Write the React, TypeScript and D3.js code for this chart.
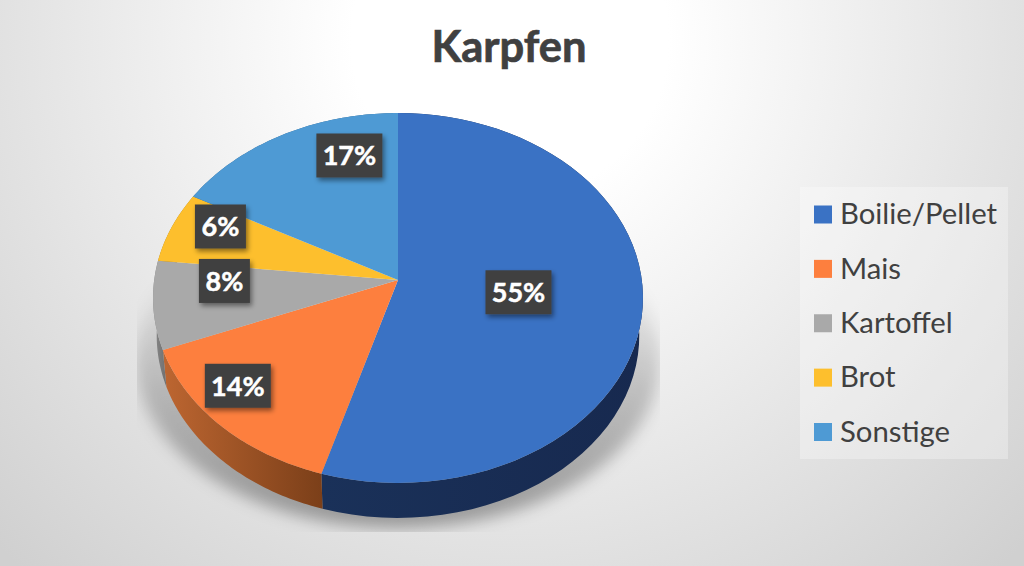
import * as d3 from "d3";
import React, { useEffect, useRef } from "react";

const categories = ["Boilie/Pellet", "Mais", "Kartoffel", "Brot", "Sonstige"];
const shares = [54.6, 14.4, 7.7, 6.2, 17.1];
const topColors = ["#3a72c4", "#fd7f3e", "#a9a9a9", "#fdbf2d", "#4e9ad4"];
const wallColors = [
  ["#1a3159", "#17294f"],
  ["#bd6631", "#7b3f19"],
  ["#8a8a8a", "#6f6f6f"],
  ["#a87f1e", "#a87f1e"],
  ["#33658c", "#33658c"],
];
// how far out from the apex each data label sits, then a small shift (Excel "best fit")
const labelRadius = [0.5, 0.84, 0.72, 0.78, 0.71];
const labelShiftX = [-1, -13, 2, 0, 35];
const labelShiftY = [-1, -15, -17, -12, -19];

const WIDTH = 1024;
const HEIGHT = 566;
const FONT = "Lato, 'Open Sans', sans-serif";

// tilted disc: perspective projection of the unit circle
const apex = { x: 398, y: 280 };
const spreadX = 243.8;
const spreadY = 183.2;
const tilt = 0.0973;
const depth = 38;

const project = (angle: number, r = 1, scale = 1, drop = 0): [number, number] => {
  const x = Math.sin(angle) * r;
  const y = -Math.cos(angle) * r;
  const w = 1 - tilt * y;
  return [
    apex.x + (spreadX * scale * x) / w,
    apex.y + drop + (spreadY * scale * y) / w,
  ];
};

const App: React.FC = () => {
  const ref = useRef<SVGSVGElement>(null);

  useEffect(() => {
    if (!ref.current) return;
    const svg = d3.select(ref.current);
    svg.selectAll("*").remove();

    const defs = svg.append("defs");

    const bg = defs
      .append("radialGradient")
      .attr("id", "bg")
      .attr("gradientUnits", "userSpaceOnUse")
      .attr("cx", 510)
      .attr("cy", 40)
      .attr("r", 720);
    bg.append("stop").attr("offset", "0%").attr("stop-color", "#ffffff");
    bg.append("stop").attr("offset", "22%").attr("stop-color", "#ffffff");
    bg.append("stop").attr("offset", "70%").attr("stop-color", "#e2e2e2");
    bg.append("stop").attr("offset", "100%").attr("stop-color", "#d0d0d0");

    const shadowFade = defs
      .append("linearGradient")
      .attr("id", "shadowFade")
      .attr("x1", 0)
      .attr("x2", 0)
      .attr("y1", 0)
      .attr("y2", 1);
    shadowFade.append("stop").attr("offset", "22%").attr("stop-color", "#000").attr("stop-opacity", 0);
    shadowFade.append("stop").attr("offset", "60%").attr("stop-color", "#000").attr("stop-opacity", 0.2);
    shadowFade.append("stop").attr("offset", "100%").attr("stop-color", "#000").attr("stop-opacity", 0.34);

    defs
      .append("filter")
      .attr("id", "soft")
      .attr("x", "-20%")
      .attr("y", "-20%")
      .attr("width", "140%")
      .attr("height", "140%")
      .append("feGaussianBlur")
      .attr("stdDeviation", 8);

    const boxShadow = defs
      .append("filter")
      .attr("id", "boxShadow")
      .attr("x", "-30%")
      .attr("y", "-30%")
      .attr("width", "160%")
      .attr("height", "160%");
    boxShadow
      .append("feDropShadow")
      .attr("dx", 2)
      .attr("dy", 3)
      .attr("stdDeviation", 2.5)
      .attr("flood-color", "#000")
      .attr("flood-opacity", 0.45);

    defs
      .append("clipPath")
      .attr("id", "shadowClip")
      .append("rect")
      .attr("x", 137)
      .attr("y", 270)
      .attr("width", 523)
      .attr("height", 262);

    wallColors.forEach((c, i) => {
      const g = defs
        .append("linearGradient")
        .attr("id", `wall${i}`)
        .attr("x1", 0)
        .attr("x2", 1)
        .attr("y1", 0)
        .attr("y2", 0);
      g.append("stop").attr("offset", "0%").attr("stop-color", c[0]);
      g.append("stop").attr("offset", "100%").attr("stop-color", c[1]);
    });

    svg.append("rect").attr("width", WIDTH).attr("height", HEIGHT).attr("fill", "url(#bg)");

    // soft shadow under the pie
    svg
      .append("g")
      .attr("clip-path", "url(#shadowClip)")
      .append("ellipse")
      .attr("cx", apex.x)
      .attr("cy", 360)
      .attr("rx", 262)
      .attr("ry", 168)
      .attr("fill", "url(#shadowFade)")
      .attr("filter", "url(#soft)");

    const pie = d3.pie<number>().sort(null);
    const arcs = pie(shares);
    const line = d3.line();

    const rimAngles = (start: number, end: number) =>
      d3.range(0, 61).map((k) => start + ((end - start) * k) / 60);

    // side walls, back to front; the top faces cover whatever is hidden
    svg
      .append("g")
      .selectAll("path")
      .data(arcs)
      .join("path")
      .attr("d", (d) => {
        const angles = rimAngles(d.startAngle, d.endAngle);
        const upper = angles.map((a) => project(a));
        const lower = angles.map((a) => project(a, 1, 0.985, depth)).reverse();
        return line([...upper, ...lower]) + "Z";
      })
      .attr("fill", (_, i) => `url(#wall${i})`);

    // top faces
    svg
      .append("g")
      .selectAll("path")
      .data(arcs)
      .join("path")
      .attr("d", (d) => {
        const rim = rimAngles(d.startAngle, d.endAngle).map((a) => project(a));
        return line([[apex.x, apex.y], ...rim]) + "Z";
      })
      .attr("fill", (_, i) => topColors[i]);

    // data labels
    const labels = svg
      .append("g")
      .selectAll("g")
      .data(arcs)
      .join("g")
      .attr("transform", (d, i) => {
        const [x, y] = project((d.startAngle + d.endAngle) / 2, labelRadius[i]);
        return `translate(${x + labelShiftX[i]},${y + labelShiftY[i]})`;
      });
    labels
      .append("rect")
      .attr("x", (d) => (d.data >= 10 ? -33 : -25.5))
      .attr("y", -22)
      .attr("width", (d) => (d.data >= 10 ? 66 : 51))
      .attr("height", 44)
      .attr("fill", "#404040")
      .attr("filter", "url(#boxShadow)");
    labels
      .append("text")
      .attr("text-anchor", "middle")
      .attr("dy", "0.36em")
      .attr("font-family", FONT)
      .attr("font-size", 27)
      .attr("font-weight", 700)
      .attr("fill", "#ffffff")
      .attr("stroke", "#ffffff")
      .attr("stroke-width", 0.5)
      .text((d) => `${Math.round(d.data)}%`);

    // title
    svg
      .append("text")
      .attr("x", 509)
      .attr("y", 62)
      .attr("text-anchor", "middle")
      .attr("font-family", FONT)
      .attr("font-size", 43.5)
      .attr("font-weight", 700)
      .attr("fill", "#404040")
      .attr("stroke", "#404040")
      .attr("stroke-width", 0.7)
      .text("Karpfen");

    // legend
    svg
      .append("rect")
      .attr("x", 800)
      .attr("y", 187)
      .attr("width", 208)
      .attr("height", 272)
      .attr("fill", "#ffffff")
      .attr("fill-opacity", 0.3);

    const legendY = d3.scalePoint<string>().domain(categories).range([214.5, 432]);
    const legend = svg
      .append("g")
      .selectAll("g")
      .data(categories)
      .join("g")
      .attr("transform", (d) => `translate(814,${legendY(d)})`);
    legend
      .append("rect")
      .attr("y", -9)
      .attr("width", 18)
      .attr("height", 18)
      .attr("fill", (_, i) => topColors[i]);
    legend
      .append("text")
      .attr("x", 26)
      .attr("dy", "0.33em")
      .attr("font-family", FONT)
      .attr("font-size", 29.3)
      .attr("fill", "#404040")
      .text((d) => d);
  }, []);

  return (
    <svg
      ref={ref}
      width={WIDTH}
      height={HEIGHT}
      style={{ position: "absolute", left: 0, top: 0 }}
    ></svg>
  );
};

export default App;
